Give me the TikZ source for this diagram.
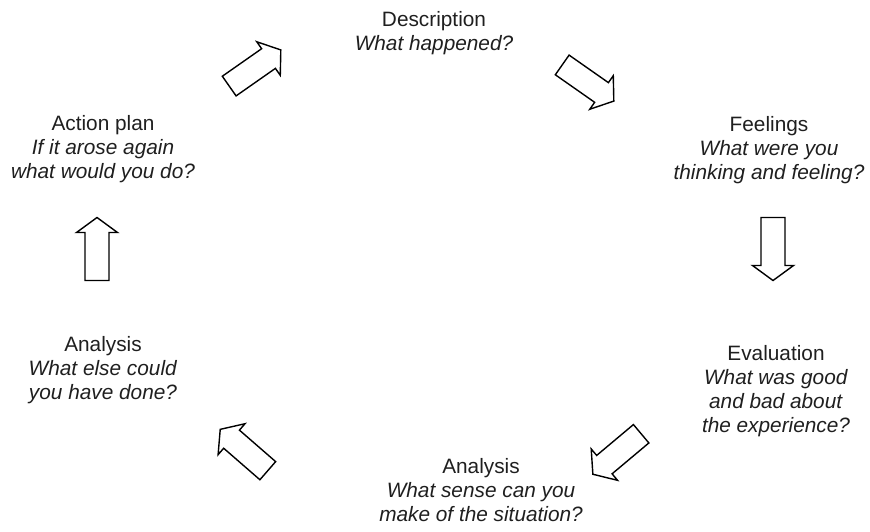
\documentclass[tikz,border=0pt]{standalone}
\usepackage{fontspec}
\setmainfont{Liberation Sans}
\usetikzlibrary{positioning}

\begin{document}
\begin{tikzpicture}[x = 0.5pt, y = -0.5pt, font=\fontsize{10.4}{12}\selectfont]
	\tikzstyle{stageStyle} = [align = center, inner sep = 0pt, text = black!88]
	\tikzstyle{arrowStyle} = [draw, line width = 0.7pt, line join = miter, fill = white]
	\tikzset{blockarrow/.pic = {
		\path[arrowStyle] (-31.5,-12) -- (16.5,-12) -- (16.5,-20.5) -- (31.5,0)
			-- (16.5,20.5) -- (16.5,12) -- (-31.5,12) -- cycle;
	}}
	\useasboundingbox (0,0) rectangle (870,531);
	% stages of the cycle
	\node[stageStyle] (desc) at (434,33) {Description\\\textit{What happened?}};
	\node[stageStyle] (feel) at (769,150) {Feelings\\\textit{What were you}\\\textit{thinking and feeling?}};
	\node[stageStyle] (eval) at (776,391) {Evaluation\\\textit{What was good}\\\textit{and bad about}\\\textit{the experience?}};
	\node[stageStyle] (anal) at (481,490) {Analysis\\\textit{What sense can you}\\\textit{make of the situation?}};
	\node[stageStyle] (alts) at (103,370) {Analysis\\\textit{What else could}\\\textit{you have done?}};
	\node[stageStyle] (plan) at (103,149) {Action plan\\\textit{If it arose again}\\\textit{what would you do?}};
	% arrows between stages
	\pic[rotate = 35] (planDesc) at (255,68) {blockarrow};
	\pic[rotate = -35] (descFeel) at (588,83) {blockarrow};
	\pic[rotate = -90] (feelEval) at (773,249) {blockarrow};
	\pic[rotate = 220] (evalAnal) at (617,454) {blockarrow};
	\pic[rotate = 139] (analAlts) at (244,450) {blockarrow};
	\pic[rotate = 90] (altsPlan) at (97,249) {blockarrow};
\end{tikzpicture}
\end{document}
